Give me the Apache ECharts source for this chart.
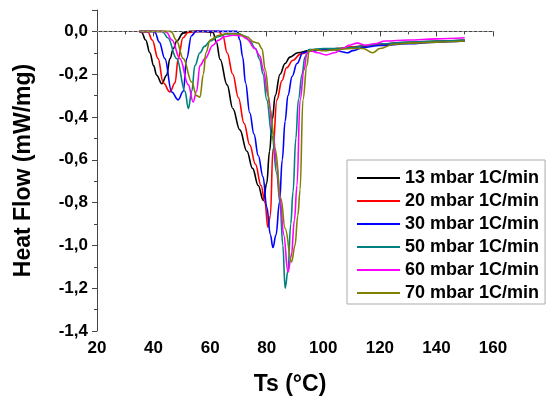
<!DOCTYPE html>
<html>
<head>
<meta charset="utf-8">
<script src="https://cdn.jsdelivr.net/npm/echarts@6/dist/echarts.min.js"></script>
<style>
  html, body { margin: 0; padding: 0; background: #fff; }
  #main { width: 552px; height: 403px; }
</style>
</head>
<body>
<div id="main"></div>
<script>
// series names + colors
var names = ['13 mbar 1C/min', '20 mbar 1C/min', '30 mbar 1C/min', '50 mbar 1C/min', '60 mbar 1C/min', '70 mbar 1C/min'];
var colors = ['#000000', '#ff0000', '#0000ff', '#008080', '#ff00ff', '#808000'];

// x tick labels (deg C) and y range
var xTicks = [20, 40, 60, 80, 100, 120, 140, 160];
var yTicks = [-1.4, -1.2, -1.0, -0.8, -0.6, -0.4, -0.2, 0.0];

// [Ts, heat flow]
var d13 = [[35,0],[35.8,-0.005],[37.2,-0.04],[38.7,-0.1],[40,-0.16],[41.1,-0.205],[42.9,-0.244],[44.6,-0.205],[45.8,-0.127],[47,-0.08],[48.2,-0.045],[50.4,-0.008],[53,0],[58,0],[61,-0.005],[62.2,-0.05],[63.5,-0.13],[66,-0.25],[68,-0.36],[70.5,-0.46],[73,-0.56],[75,-0.64],[77,-0.72],[78.8,-0.79],[80,-0.71],[81,-0.56],[82,-0.41],[83,-0.3],[84.7,-0.2],[86.5,-0.15],[88.2,-0.12],[91,-0.1],[95,-0.09],[100,-0.085],[105,-0.08],[110,-0.075],[115,-0.068],[120,-0.06],[130,-0.052],[140,-0.046],[150,-0.042]];
var d20 = [[35,0],[38,-0.003],[39.5,-0.04],[41.6,-0.127],[43.4,-0.24],[45.8,-0.283],[47.6,-0.24],[48.7,-0.127],[50.4,-0.03],[52.2,-0.005],[55,0],[63,0],[64.5,-0.02],[66,-0.1],[68,-0.2],[70,-0.31],[72,-0.43],[74,-0.53],[76,-0.62],[78,-0.72],[79.4,-0.8],[80.4,-0.915],[81.3,-0.86],[82.2,-0.55],[83.6,-0.32],[85.4,-0.23],[87,-0.17],[89.3,-0.135],[92,-0.105],[96,-0.09],[100,-0.085],[105,-0.08],[110,-0.072],[115,-0.066],[120,-0.06],[130,-0.052],[140,-0.047],[150,-0.042]];
var d30 = [[35,0],[40,0],[40.5,-0.005],[42,-0.05],[44,-0.127],[46.4,-0.283],[48.7,-0.32],[50.5,-0.28],[51.7,-0.127],[53.4,-0.02],[55,0],[69.5,0],[70.5,-0.04],[71.5,-0.12],[72.5,-0.24],[74,-0.38],[75.5,-0.48],[77,-0.58],[78.7,-0.68],[80,-0.82],[81.3,-0.95],[82.2,-1.01],[83.3,-0.95],[84.5,-0.8],[85.5,-0.6],[86.5,-0.42],[87.5,-0.3],[89,-0.21],[90.7,-0.15],[92.8,-0.1],[96,-0.09],[100,-0.085],[104,-0.085],[106.5,-0.095],[108.5,-0.1],[110.5,-0.09],[114,-0.075],[120,-0.066],[130,-0.058],[140,-0.05],[150,-0.045]];
var d50 = [[35,0],[43,0],[43.4,-0.005],[45,-0.03],[48.2,-0.127],[51.1,-0.28],[52.3,-0.36],[53.5,-0.28],[54.6,-0.16],[56.4,-0.1],[58,-0.07],[60,-0.045],[62.8,-0.025],[66,-0.012],[70,-0.01],[72,-0.02],[74,-0.045],[76,-0.08],[77.5,-0.13],[78.7,-0.2],[80,-0.32],[81.9,-0.49],[83.5,-0.66],[84.7,-0.8],[85.7,-1.0],[86.5,-1.2],[87.5,-1.12],[88.5,-0.9],[89.3,-0.75],[90.3,-0.5],[91.2,-0.32],[92.5,-0.2],[93.5,-0.12],[95,-0.085],[100,-0.08],[105,-0.08],[110,-0.075],[115,-0.066],[120,-0.058],[130,-0.05],[140,-0.045],[150,-0.04]];
var d60 = [[35,0],[44,0],[44.6,-0.005],[46.5,-0.04],[49.3,-0.127],[52.3,-0.25],[54,-0.33],[55.2,-0.28],[56.4,-0.16],[58.2,-0.127],[61,-0.065],[62.8,-0.042],[65,-0.025],[68,-0.018],[71,-0.02],[73,-0.035],[75.8,-0.08],[77.6,-0.115],[78.8,-0.18],[80.5,-0.3],[82.2,-0.47],[83.5,-0.62],[84.7,-0.78],[86,-0.95],[87.5,-1.125],[88.7,-1.05],[89.8,-0.88],[90.7,-0.72],[91.8,-0.32],[93.2,-0.18],[94.2,-0.1],[95.5,-0.09],[98,-0.1],[101,-0.11],[104,-0.1],[107,-0.08],[109,-0.065],[112,-0.055],[115,-0.065],[118,-0.058],[122,-0.045],[130,-0.04],[140,-0.035],[150,-0.03]];
var d70 = [[35,0],[46,0],[46.4,-0.005],[48,-0.04],[50.5,-0.127],[53.5,-0.237],[55.2,-0.3],[56.4,-0.307],[57.6,-0.2],[58.5,-0.1],[60,-0.04],[63,-0.018],[66,-0.01],[70,-0.012],[73,-0.025],[75.5,-0.05],[77,-0.055],[78.3,-0.08],[79.5,-0.18],[81.2,-0.36],[83,-0.55],[85,-0.78],[86.5,-0.92],[88.8,-1.077],[90,-1.0],[91,-0.86],[91.8,-0.74],[92.8,-0.32],[94.2,-0.16],[95,-0.09],[97,-0.085],[100,-0.09],[105,-0.085],[110,-0.08],[114,-0.08],[117.5,-0.1],[120,-0.08],[125,-0.06],[130,-0.055],[140,-0.05],[150,-0.045]];
var curves = [d13, d20, d30, d50, d60, d70];

var font = 'Liberation Sans, Arial, sans-serif';

var myChart = echarts.init(document.getElementById('main'));

var series = [];
for (var i = 0; i < curves.length; i++) {
    series.push({
        name: names[i],
        type: 'line',
        data: curves[i],
        symbol: 'none',
        smooth: 0.4,
        smoothMonotone: 'x',
        lineStyle: { color: colors[i], width: 1.6 },
        itemStyle: { color: colors[i] },
        z: 3
    });
}
// dotted zero line
series[0].markLine = {
    silent: true,
    symbol: 'none',
    label: { show: false },
    lineStyle: { color: '#999', type: [2, 3], width: 1 },
    data: [{ yAxis: 0 }]
};

var option = {
    backgroundColor: '#fff',
    animation: false,
    grid: { left: 97, right: 59, top: 10, bottom: 72 },
    legend: {
        orient: 'vertical',
        left: 347,
        top: 160,
        padding: [9, 6, 2, 10],
        icon: 'rect',
        itemWidth: 43,
        itemHeight: 2,
        itemGap: 5,
        borderColor: '#aaa',
        borderWidth: 1,
        backgroundColor: '#fff',
        textStyle: { fontFamily: font, fontWeight: 'bold', fontSize: 18, color: '#000', lineHeight: 18 },
        data: names
    },
    xAxis: {
        type: 'value',
        min: xTicks[0],
        max: xTicks[xTicks.length - 1],
        interval: 20,
        name: 'Ts (°C)',
        nameLocation: 'middle',
        nameGap: 42,
        nameTextStyle: { fontFamily: font, fontWeight: 'bold', fontSize: 23, color: '#000', padding: [0, 10, 0, 0] },
        axisLine: { lineStyle: { color: '#444', width: 1 } },
        axisTick: { show: true, length: 5, lineStyle: { color: '#444' } },
        minorTick: { show: true, splitNumber: 2, length: 3, lineStyle: { color: '#444' } },
        splitLine: { show: false },
        axisLabel: { fontFamily: font, fontWeight: 'bold', fontSize: 17, color: '#000', margin: 9 }
    },
    yAxis: {
        type: 'value',
        min: yTicks[0],
        max: 0.1,
        interval: 0.2,
        name: 'Heat Flow (mW/mg)',
        nameLocation: 'middle',
        nameGap: 62,
        nameTextStyle: { fontFamily: font, fontWeight: 'bold', fontSize: 23, color: '#000' },
        axisLine: { show: true, lineStyle: { color: '#444', width: 1 } },
        axisTick: { show: true, length: 5, lineStyle: { color: '#444' } },
        minorTick: { show: true, splitNumber: 2, length: 3, lineStyle: { color: '#444' } },
        splitLine: { show: false },
        axisLabel: {
            fontFamily: font, fontWeight: 'bold', fontSize: 17, color: '#000', margin: 9,
            formatter: function (v) {
                if (v > 0.05) return '';
                return v.toFixed(1).replace('.', ',');
            }
        }
    },
    series: series
};

myChart.setOption(option);
</script>
</body>
</html>
